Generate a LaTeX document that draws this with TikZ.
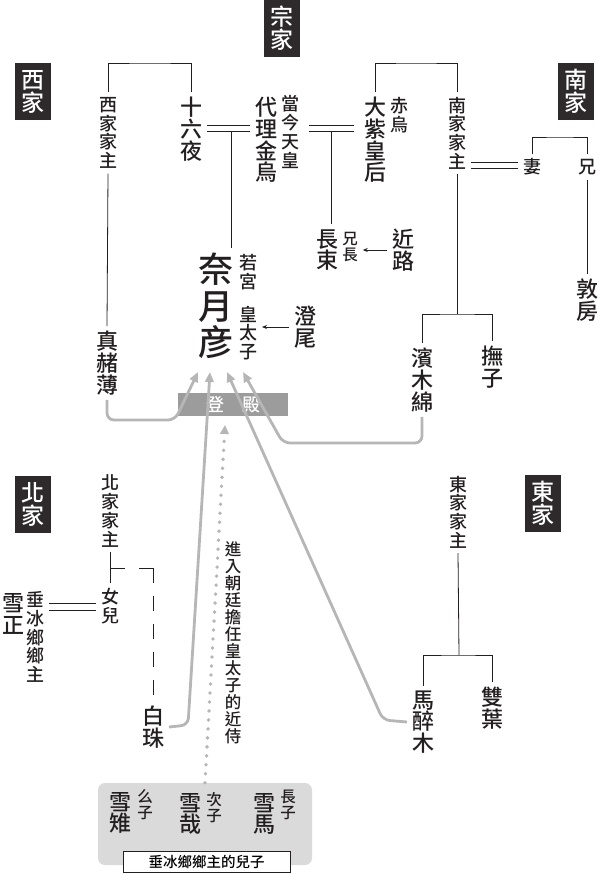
\documentclass[tikz,border=0pt]{standalone}
\usepackage{fontspec}
\setmainfont{Noto Sans CJK TC}[UprightFont=* Medium, BoldFont=* Bold]
\usetikzlibrary{arrows.meta}

\definecolor{inkblack}{HTML}{231F20}
\definecolor{housebox}{HTML}{2E2A2B}
\definecolor{pathgray}{HTML}{B6B6B6}
\definecolor{stagegray}{HTML}{9C9C9C}
\definecolor{panelgray}{HTML}{DADADA}

\newcommand{\bigname}{\fontsize{35}{36.5}\selectfont}
\newcommand{\namefont}{\fontsize{22}{21.7}\selectfont}
\newcommand{\rolefont}{\fontsize{18}{18.7}\selectfont}
\newcommand{\minifont}{\fontsize{15.5}{16}\selectfont}

\tikzset{
  house/.style={fill=housebox, text=white, font=\fontsize{23}{23}\selectfont,
    align=center, minimum width=36pt, minimum height=57pt, inner sep=0pt},
  person/.style={font=\namefont, text=inkblack, align=center, inner sep=1pt, outer sep=4pt},
  role/.style={font=\rolefont, text=inkblack, align=center, inner sep=1pt, outer sep=4pt},
  minirole/.style={role, font=\minifont},
  kin/.style={draw=inkblack, line width=0.8pt},
  wedup/.style={kin, transform canvas={yshift=3.4pt}},
  weddown/.style={kin, transform canvas={yshift=-3.4pt}},
  hint/.style={kin, -{Stealth[length=5pt,width=4pt]}},
  entry/.style={draw=pathgray, line width=2.8pt, rounded corners=7pt,
    -{Triangle[length=10pt,width=8.5pt]}},
  dots/.style={draw=pathgray, line width=3.8pt, line cap=round,
    dash pattern=on 0pt off 9pt, -{Triangle[length=9pt,width=8.5pt]}}
}

\begin{document}
\begin{tikzpicture}[x=1pt, y=-1pt]
  \useasboundingbox (0,0) rectangle (598,874);

  % houses
  \node[house] (zongjia) at (282,28.5) {宗\\家};
  \node[house] (xijia) at (33,91.5) {西\\家};
  \node[house] (nanjia) at (576,91.5) {南\\家};
  \node[house] (beijia) at (33,504.5) {北\\家};
  \node[house] (dongjia) at (543,503.5) {東\\家};

  % main house and the west
  \node[role] (xjzhu) at (108,133) {西\\家\\家\\主};
  \node[person] (shiliuye) at (191,129) {十\\六\\夜};
  \node[person] (jinwu) at (266,140) {代\\理\\金\\烏};
  \node[role] (dangjin) at (290,132) {當\\今\\天\\皇};
  \node[person] (dazi) at (375,140) {大\\紫\\皇\\后};
  \node[role] (chiwu) at (399,115) {赤\\烏};
  \node[role] (njzhu) at (457,133) {南\\家\\家\\主};
  \node[role] (qi) at (532,167) {妻};
  \node[role] (xiong) at (587,167) {兄};
  \node[person] (dunfang) at (587,300) {敦\\房};

  \node[person] (changshu) at (327,250) {長\\束};
  \node[minirole] (xiongzhang) at (350,247) {兄\\長};
  \node[person] (jinlu) at (403,250) {近\\路};

  \node[font=\bigname, text=inkblack, align=center, inner sep=1pt, outer sep=4pt]
    (naiyue) at (216,306) {奈\\月\\彦};
  \node[role] (ruogong) at (248,272) {若\\宮};
  \node[role] (huangtaizi) at (248,333) {皇\\太\\子};
  \node[person] (chengwei) at (305,327) {澄\\尾};

  \node[person] (zhenzhebo) at (107,363) {真\\赭\\薄};
  \node[person] (binmumian) at (422,380) {濱\\木\\綿};
  \node[person] (fuzi) at (492,367) {撫\\子};

  % brackets and marriages
  \coordinate (westtop) at (150,63);
  \coordinate (southtop) at (416,63);
  \coordinate (wed1) at (231,128.5);
  \coordinate (wed2) at (331,128.5);
  \coordinate (wed3) at (495,165.5);
  \coordinate (qtop) at (560,137);
  \coordinate (nfork) at (457,314);

  \draw[kin] (xjzhu.north) |- (westtop) -| (shiliuye.north);
  \draw[kin] (xjzhu.south) -- (zhenzhebo.north);
  \draw[wedup] (shiliuye.east |- wed1) -- (jinwu.west |- wed1);
  \draw[weddown] (shiliuye.east |- wed1) -- (jinwu.west |- wed1);
  \draw[kin] ([yshift=-3.4pt]wed1) -- (wed1 |- naiyue.north);

  \draw[wedup, shorten <=5pt, shorten >=5pt] (dangjin.east |- wed2) -- (dazi.west |- wed2);
  \draw[weddown, shorten <=5pt, shorten >=5pt] (dangjin.east |- wed2) -- (dazi.west |- wed2);
  \draw[kin] ([yshift=-3.4pt]wed2) -- (wed2 |- changshu.north);

  \draw[kin] (dazi.north) |- (southtop) -| (njzhu.north);
  \draw[kin] (njzhu.south) -- (nfork);
  \draw[kin] (binmumian.north) |- (nfork) -| (fuzi.north);
  \draw[wedup] (njzhu.east |- wed3) -- (qi.west |- wed3);
  \draw[weddown] (njzhu.east |- wed3) -- (qi.west |- wed3);
  \draw[kin] (qi.north) |- (qtop) -| (xiong.north);
  \draw[kin] (xiong.south) -- (dunfang.north);

  \draw[hint] (jinlu.west) -- (xiongzhang.east |- jinlu.west);
  \draw[hint] (chengwei.west) -- (huangtaizi.east |- chengwei.west);

  % north house
  \node[role] (bjzhu) at (110,511) {北\\家\\家\\主};
  \node[role] (nuer) at (110,606) {女\\兒};
  \node[role] (chuibing) at (35,637) {垂\\冰\\鄉\\鄉\\主};
  \node[person] (xuezheng) at (13,614) {雪\\正};
  \node[person] (baizhu) at (153,727) {白\\珠};

  \coordinate (wed4) at (74,606.5);
  \path (bjzhu.south) ++(0,16) coordinate (bfork);
  \draw[kin] (bjzhu.south) -- (nuer.north);
  \draw[kin] (bfork) -- ++(15,0);
  \draw[kin, dash pattern=on 29pt off 13pt on 15pt off 13pt on 15pt off 13pt on 15pt off 13pt on 15pt off 13pt]
    ([xshift=29pt]bfork) -| (baizhu.north);
  \draw[wedup] (chuibing.east |- wed4) -- (nuer.west |- wed4);
  \draw[weddown] (chuibing.east |- wed4) -- (nuer.west |- wed4);

  % east house
  \node[role] (djzhu) at (458,512) {東\\家\\家\\主};
  \node[person] (mazuimu) at (423,722) {馬\\醉\\木};
  \node[person] (shuangye) at (492,708) {雙\\葉};

  \coordinate (efork) at (459,655);
  \draw[kin] (djzhu.south) -- (efork);
  \draw[kin] (mazuimu.north) |- (efork) -| (shuangye.north);

  % sons of the lord of Suihyoukyou
  \node[fill=panelgray, rounded corners=7pt, minimum width=214pt, minimum height=82pt]
    (panel) at (205,824) {};
  \node[person] (xuezhi) at (120,813) {雪\\雉};
  \node[minirole] (yaozi) at (145,805) {么\\子};
  \node[person] (xuezai) at (190,814) {雪\\哉};
  \node[minirole] (cizi) at (214,808) {次\\子};
  \node[person] (xuema) at (264,814) {雪\\馬};
  \node[minirole] (zhangzi) at (288,805) {長\\子};
  \node[draw=inkblack, line width=0.6pt, fill=white, font=\fontsize{14.5}{15}\selectfont, inner sep=0pt,
    minimum width=167pt, minimum height=21pt] (caption) at (206.5,861.5) {垂冰鄉鄉主的兒子};

  % entering the palace
  \node[fill=stagegray, text=white, font=\fontsize{18}{18}\selectfont, inner sep=0pt,
    minimum width=110pt, minimum height=23pt] (dengdian) at (233,404.5) {登\hspace{1em}殿};
  \node[minirole, font=\fontsize{16.5}{17}\selectfont] (note) at (233,643)
    {進\\入\\朝\\廷\\擔\\任\\皇\\太\\子\\的\\近\\侍};

  \coordinate (in1) at (198,372);
  \coordinate (in2) at (210,372);
  \coordinate (in3) at (227,372);
  \coordinate (in4) at (243,372);
  \coordinate (in5) at (225,425);

  \draw[entry] (zhenzhebo.south) |- (175,420) -- (in1);
  \draw[entry] (baizhu.east) -- (188,725) -- (in2);
  \draw[entry] (mazuimu.west) -- (383,720) -- (in3);
  \draw[entry] (binmumian.south) |- (283,443) -- (in4);
  \draw[dots] (panel.north) -- (in5);
\end{tikzpicture}
\end{document}
